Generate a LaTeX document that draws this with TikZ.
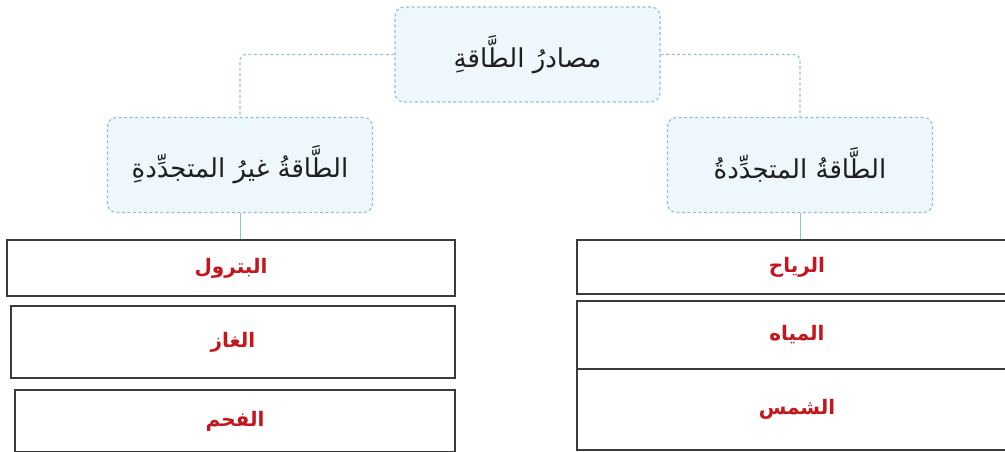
\documentclass[tikz,border=0pt]{standalone}
\usepackage{fontspec}
\TeXXeTstate=1
\newfontfamily\arabicfont[Script=Arabic]{DejaVu Sans}
\definecolor{hdrfill}{HTML}{EEF7FC}
\definecolor{hdrline}{HTML}{8FC2D9}
\definecolor{lblred}{HTML}{C4161C}
\definecolor{boxline}{HTML}{3A3A3A}
\begin{document}
\begin{tikzpicture}[x=1pt,y=-1pt,
  hdr/.style={draw=hdrline, dash pattern=on 3pt off 2.5pt, line width=1.1pt, fill=hdrfill, rounded corners=9pt,
    minimum width=265pt, minimum height=95pt, inner sep=0pt,
    font=\arabicfont\fontsize{26}{31}\selectfont, text=black!88},
  conn/.style={draw=hdrline, dash pattern=on 3pt off 2.5pt, line width=1.1pt, rounded corners=6pt},
  stem/.style={draw=hdrline, line width=0.9pt},
  cell/.style={draw=boxline, line width=1.3pt, inner sep=0pt, fill=white,
    font=\arabicfont\bfseries\fontsize{20}{24}\selectfont, text=lblred}]
\useasboundingbox (0,0) rectangle (1005,452);
\fill[white] (0,0) rectangle (1005,452);
% header nodes
\node[hdr] (top) at (527.5,54.5) {\beginR مصادرُ الطَّاقةِ\endR};
\node[hdr] (nonren) at (240,165) {\beginR الطَّاقةُ غيرُ المتجدِّدةِ\endR};
\node[hdr] (ren) at (800,165) {\beginR الطَّاقةُ المتجدِّدةُ\endR};
% connectors
\draw[conn] (top.west) -| (nonren.north);
\draw[conn] (top.east) -| (ren.north);
% left cells
\node[cell, minimum width=448pt, minimum height=56pt] (oil) at (231,268) {\beginR البترول\endR};
\node[cell, minimum width=444pt, minimum height=72pt] (gas) at (233,342) {\beginR الغاز\endR};
\node[cell, minimum width=440pt, minimum height=62pt] (coal) at (235,421) {\beginR الفحم\endR};
% right cells
\node[cell, minimum width=440pt, minimum height=54pt] (wind) at (797,267) {\beginR الرياح\endR};
\node[cell, minimum width=440pt, minimum height=68pt] (water) at (797,335) {\beginR المياه\endR};
\node[cell, minimum width=440pt, minimum height=81pt] (sun) at (797,409.5) {\beginR الشمس\endR};
% stems
\draw[stem] (nonren.south) -- (nonren.south |- oil.north);
\draw[stem] (ren.south) -- (ren.south |- wind.north);
\end{tikzpicture}
\end{document}
